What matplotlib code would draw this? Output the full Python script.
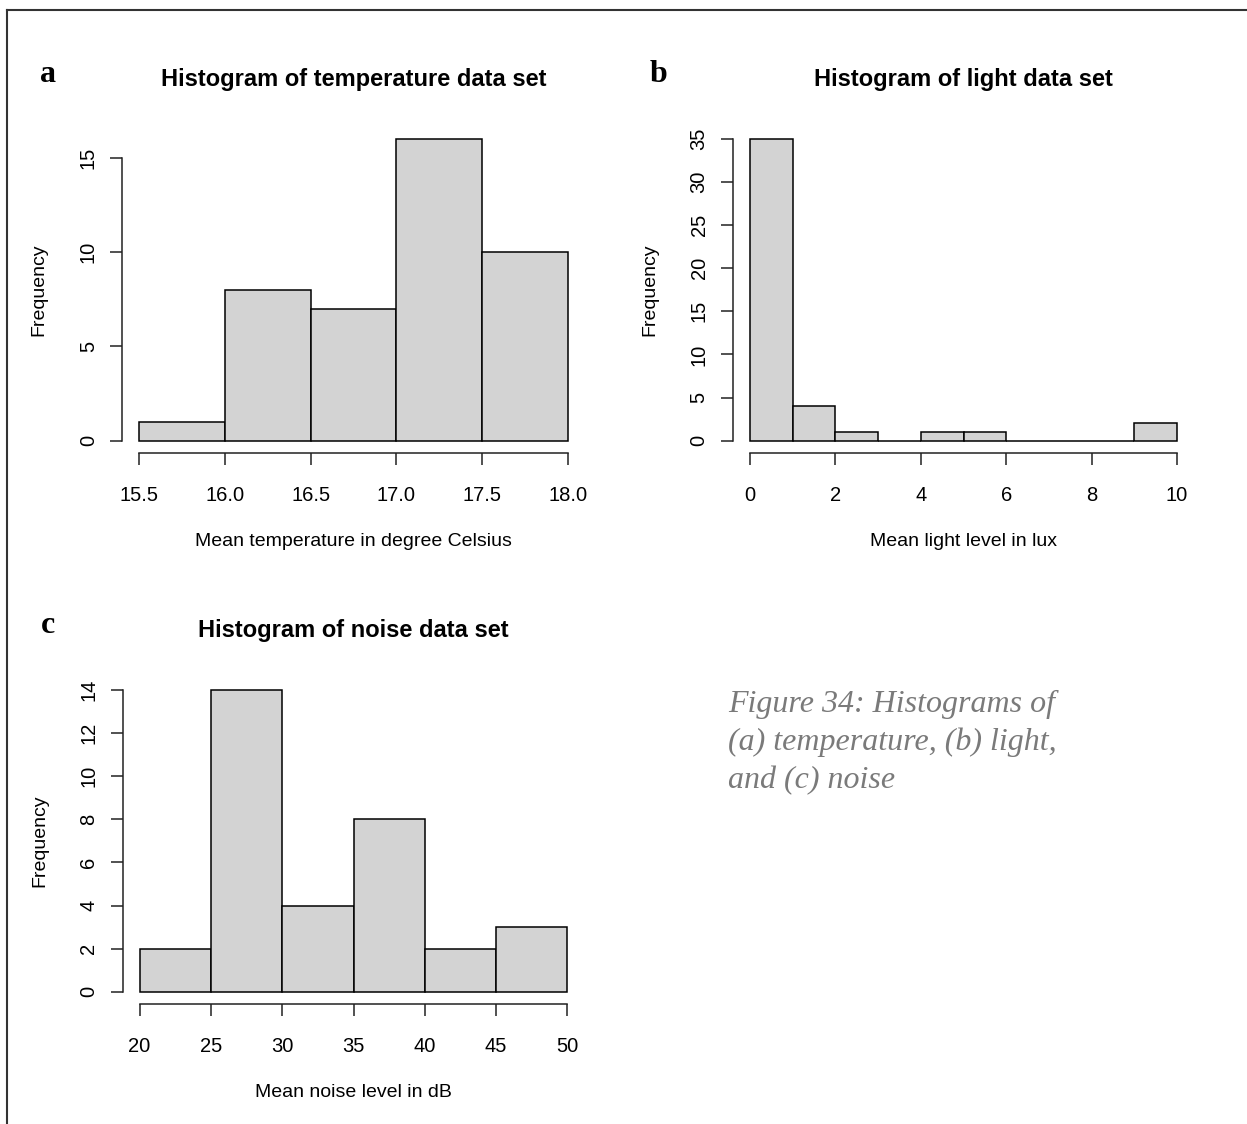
import matplotlib.pyplot as plt
from matplotlib.lines import Line2D

# data
temp_edges = [15.5, 16.0, 16.5, 17.0, 17.5, 18.0]
temp_counts = [1, 8, 7, 16, 10]
temp_xticks = [15.5, 16.0, 16.5, 17.0, 17.5, 18.0]
temp_xlabels = ["15.5", "16.0", "16.5", "17.0", "17.5", "18.0"]
temp_yticks = [0, 5, 10, 15]

light_edges = [0, 1, 2, 3, 4, 5, 6, 7, 8, 9, 10]
light_counts = [35, 4, 1, 0, 1, 1, 0, 0, 0, 2]
light_xticks = [0, 2, 4, 6, 8, 10]
light_yticks = [0, 5, 10, 15, 20, 25, 30, 35]

noise_edges = [20, 25, 30, 35, 40, 45, 50]
noise_counts = [2, 14, 4, 8, 2, 3]
noise_xticks = [20, 25, 30, 35, 40, 45, 50]
noise_yticks = [0, 2, 4, 6, 8, 10, 12, 14]

W, H = 1247, 1124
SANS = "Liberation Sans"
SERIF = "Liberation Serif"
plt.rcParams['font.family'] = SANS


def fx(px):
    return px / W


def fy(py):
    return 1 - py / H


def r_hist(ax, edges, counts, xticks, yticks, xlabels=None):
    # histogram drawn like R's hist(): grey bars, detached axes
    widths = [edges[i + 1] - edges[i] for i in range(len(counts))]
    ax.bar(edges[:-1], counts, width=widths, align='edge',
           color='#d3d3d3', edgecolor='black', linewidth=1.1)
    x0, x1 = edges[0], edges[-1]
    y0, y1 = 0, max(counts)
    ax.set_xlim(x0 - 0.04 * (x1 - x0), x1 + 0.04 * (x1 - x0))
    ax.set_ylim(y0 - 0.04 * (y1 - y0), y1 + 0.04 * (y1 - y0))
    ax.set_xticks(xticks)
    if xlabels is not None:
        ax.set_xticklabels(xlabels)
    ax.set_yticks(yticks)
    for s in ['top', 'right']:
        ax.spines[s].set_visible(False)
    ax.spines['left'].set_bounds(yticks[0], yticks[-1])
    ax.spines['bottom'].set_bounds(xticks[0], xticks[-1])
    for s in ['left', 'bottom']:
        ax.spines[s].set_linewidth(1.1)
        ax.spines[s].set_color('#222222')
    ax.tick_params(direction='out', length=8.6, width=1.1, color='#222222', labelsize=14.5)
    ax.tick_params(axis='x', pad=15)
    ax.tick_params(axis='y', labelrotation=90, pad=9)
    for lab in ax.get_yticklabels():
        lab.set_verticalalignment('center')
    ax.patch.set_visible(False)


fig = plt.figure(figsize=(W / 100, H / 100), dpi=100)

# plot regions in pixels: (left, top, right, bottom)
regions = {
    'a': (122.2, 126.7, 584.7, 452.8),
    'b': (733.0, 126.7, 1194.0, 452.8),
    'c': (122.5, 678.0, 584.5, 1003.8),
}
axes = {}
for key, (l, t, r, b) in regions.items():
    axes[key] = fig.add_axes([fx(l), fy(b), fx(r) - fx(l), fy(t) - fy(b)])

r_hist(axes['a'], temp_edges, temp_counts, temp_xticks, temp_yticks, temp_xlabels)
r_hist(axes['b'], light_edges, light_counts, light_xticks, light_yticks)
r_hist(axes['c'], noise_edges, noise_counts, noise_xticks, noise_yticks)

titles = {
    'a': "Histogram of temperature data set",
    'b': "Histogram of light data set",
    'c': "Histogram of noise data set",
}
xlabs = {
    'a': "Mean temperature in degree Celsius",
    'b': "Mean light level in lux",
    'c': "Mean noise level in dB",
}
for key, (l, t, r, b) in regions.items():
    cx = (l + r) / 2
    cy = (t + b) / 2
    fig.text(fx(cx), fy(t - 41), titles[key], ha='center', va='baseline',
             fontsize=17, fontweight='bold')
    fig.text(fx(cx), fy(b + 93), xlabs[key], ha='center', va='baseline', fontsize=14)
    fig.text(fx(l - 83), fy(cy), "Frequency", ha='center', va='center',
             rotation=90, fontsize=14)
    fig.text(fx(l - 74), fy(t - 45), key, ha='center', va='baseline',
             fontsize=23, fontweight='bold', family=SERIF)

# caption
caption = ["Figure 34: Histograms of", "(a) temperature, (b) light,", "and (c) noise"]
for i, line in enumerate(caption):
    fig.text(fx(728), fy(712 + 38 * i), line, ha='left', va='baseline',
             fontsize=23, style='italic', family=SERIF, color='#7a7a7a')

# page frame (top and left edges only)
fig.add_artist(Line2D([fx(7), 1], [fy(10), fy(10)], color='#333333', lw=1.5))
fig.add_artist(Line2D([fx(7), fx(7)], [fy(10), 0], color='#333333', lw=1.5))

fig.savefig("out.png", dpi=100)
